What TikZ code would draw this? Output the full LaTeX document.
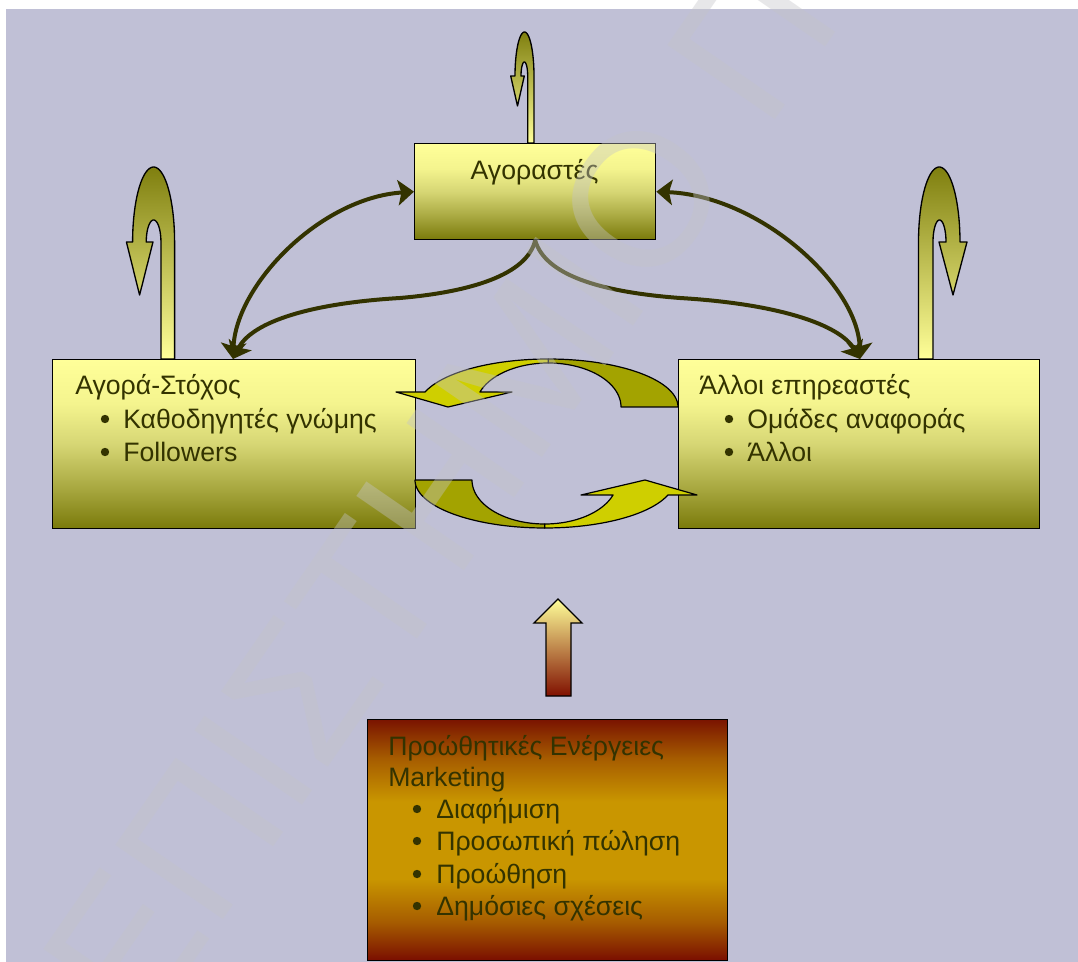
\documentclass[tikz,border=0pt]{standalone}
\usepackage{fontspec}
\setmainfont{Liberation Sans}
\usetikzlibrary{arrows.meta,calc}
\definecolor{bgc}{HTML}{C0C0D6}
\definecolor{yt}{HTML}{FFFF99}
\definecolor{ya}{HTML}{F4F48E}
\definecolor{ym}{HTML}{D6D674}
\definecolor{yn}{HTML}{A8A840}
\definecolor{yb}{HTML}{7A7A0A}
\definecolor{txt}{HTML}{333300}
\definecolor{conncol}{HTML}{333300}
\definecolor{cycd}{HTML}{A3A300}
\definecolor{cycb}{HTML}{CFCF00}
\definecolor{rdt}{HTML}{7A1400}
\definecolor{rdm}{HTML}{A65C00}
\definecolor{gdm}{HTML}{C99600}
\definecolor{rdb}{HTML}{7A0E00}
\definecolor{upm}{HTML}{D0B478}
\definecolor{upr}{HTML}{801000}
\definecolor{lpd}{HTML}{7F7F0F}
\definecolor{wm}{HTML}{C4C4C8}
\pgfdeclareverticalshading{yshade}{100bp}{color(0bp)=(yb); color(25bp)=(yb); color(37bp)=(yn); color(50bp)=(ym); color(62bp)=(ya); color(75bp)=(yt); color(100bp)=(yt)}
\pgfdeclareverticalshading{mshade}{100bp}{color(0bp)=(rdb); color(25bp)=(rdb); color(33bp)=(rdm); color(42bp)=(gdm); color(58bp)=(gdm); color(67bp)=(rdm); color(75bp)=(rdt); color(100bp)=(rdt)}
\begin{document}
\begin{tikzpicture}[x=0.75pt,y=-0.75pt,
  >={Stealth[length=12pt,width=19pt,inset=2.5pt]},
  ybox/.style={draw=black, line width=1pt, inner sep=0pt, anchor=north west, shade, shading=yshade},
  mbox/.style={draw=black, line width=1pt, inner sep=0pt, anchor=north west, shade, shading=mshade},
  txtn/.style={text=txt, font=\fontsize{20pt}{24pt}\selectfont, inner sep=0pt},
  conn/.style={draw=conncol, line width=3pt},
  loopar/.style={draw=black, line width=1pt, line join=round, top color=lpd, bottom color=yt},
  cyc/.style={draw=black, line width=0.9pt, line join=round},
  blt/.style={fill=txt}
]
\useasboundingbox (0,0) rectangle (1078,962);
\fill[white] (0,0) rectangle (1078,962);
\fill[bgc] (6,9) rectangle (1078,962);

% self loops
\path[loopar] (174.6,359) -- (174.6,242)
  -- plot[domain=0:180,samples=40,variable=\t] ({153.6+21*cos(\t)},{242-75*sin(\t)})
  -- (126.4,242) -- (139.6,295) -- (153,242) -- (146.3,242)
  -- plot[domain=180:0,samples=30,variable=\t] ({153.6+7.35*cos(\t)},{242-22*sin(\t)})
  -- (161,359) -- cycle;
\path[loopar] (918.5,359) -- (918.5,242)
  -- plot[domain=180:0,samples=40,variable=\t] ({939.25+20.75*cos(\t)},{242-75*sin(\t)})
  -- (967,242) -- (953,295) -- (939,242) -- (946,242)
  -- plot[domain=0:180,samples=30,variable=\t] ({939.5+6.5*cos(\t)},{242-22*sin(\t)})
  -- (933,359) -- cycle;
\path[loopar] (534,143) -- (534,76)
  -- plot[domain=0:180,samples=40,variable=\t] ({524.5+9.5*cos(\t)},{76-44*sin(\t)})
  -- (510.7,76) -- (517.5,106) -- (524.3,76) -- (521,76)
  -- plot[domain=180:0,samples=30,variable=\t] ({524.35+3.35*cos(\t)},{76-14*sin(\t)})
  -- (527.7,143) -- cycle;

% boxes
\node[ybox, minimum width=180.75pt, minimum height=72pt] (buy) at (414,143) {};
\node[ybox, minimum width=272.25pt, minimum height=126.75pt] (tgt) at (52,359) {};
\node[ybox, minimum width=270.75pt, minimum height=126.75pt] (oth) at (678,359) {};
\node[mbox, minimum width=270pt, minimum height=180.75pt] (mkt) at (367,719) {};

\coordinate (tgtin) at (233,359);
\coordinate (othin) at (860,359);

% connectors
\draw[conn,<->] (tgtin) .. controls (236,285) and (320,198) .. (buy.west);
\draw[conn,<->] (othin) .. controls (858,285) and (760,196) .. (buy.east);
\draw[conn,->] (buy.south) .. controls (527,275) and (470,292) .. (400,298)
  .. controls (300,304) and (250,325) .. (tgtin);
\draw[conn,->] (buy.south) .. controls (545,275) and (600,292) .. (680,298)
  .. controls (780,304) and (840,325) .. (othin);

% cycle arrows
\foreach \ang in {0,180}{
\begin{scope}[rotate around={\ang:(546.5,443.5)}]
\path[cyc, fill=cycd]
  plot[domain=0:90,samples=40,variable=\t] ({548.3+129.7*cos(\t)},{407-48*sin(\t)})
  -- plot[domain=90:0,samples=40,variable=\t] ({548.3+72.7*cos(\t)},{407-44*sin(\t)})
  -- cycle;
\path[cyc, fill=cycb]
  plot[domain=90:161.8,samples=40,variable=\t] ({548.3+129.7*cos(\t)},{407-48*sin(\t)})
  -- (396,392) -- (448,407) -- (512,392)
  -- plot[domain=160.1:90,samples=40,variable=\t] ({548.3+72.7*cos(\t)},{407-44*sin(\t)})
  -- cycle;
\end{scope}
}

% up arrow
\path[draw=black, line width=1pt, line join=miter, top color=yt, middle color=upm, bottom color=upr]
  (558,599) -- (582,623) -- (571,623) -- (571,696) -- (546,696) -- (546,623) -- (534,623) -- cycle;

% texts
\node[txtn, anchor=base] (buyt) at (534.5,180) {Αγοραστές};
\node[txtn, anchor=base west] (tgt1) at (75,395) {Αγορά-Στόχος};
\node[txtn, anchor=base west] (tgt2) at (123,428) {Καθοδηγητές γνώμης};
\node[txtn, anchor=base west] (tgt3) at (123,461) {Followers};
\fill[blt] (105,419) circle (4.2);
\fill[blt] (105,452) circle (4.2);
\node[txtn, anchor=base west] (oth1) at (699,395) {Άλλοι επηρεαστές};
\node[txtn, anchor=base west] (oth2) at (747,428) {Ομάδες αναφοράς};
\node[txtn, anchor=base west] (oth3) at (747,461) {Άλλοι};
\fill[blt] (729,419) circle (4.2);
\fill[blt] (729,452) circle (4.2);
\node[txtn, anchor=base west] (m1) at (388,755) {Προώθητικές Ενέργειες};
\node[txtn, anchor=base west] (m2) at (388,786) {Marketing};
\node[txtn, anchor=base west] (m3) at (436,818) {Διαφήμιση};
\node[txtn, anchor=base west] (m4) at (436,850) {Προσωπική πώληση};
\node[txtn, anchor=base west] (m5) at (436,883) {Προώθηση};
\node[txtn, anchor=base west] (m6) at (436,915) {Δημόσιες σχέσεις};
\fill[blt] (417,809) circle (4.2);
\fill[blt] (417,841) circle (4.2);
\fill[blt] (417,874) circle (4.2);
\fill[blt] (417,906) circle (4.2);

% watermark
\begin{scope}[opacity=0.4, transparency group]
\clip (0,0) rectangle (1078,962);
\node[font=\fontsize{142.5pt}{142.5pt}\selectfont, text=wm, rotate=55.4, anchor=base west, inner sep=0pt] (wmk) at (-85,1367) {ΠΑΝΕΠΙΣΤΗΜΙΟ Π};
\end{scope}
\end{tikzpicture}
\end{document}
